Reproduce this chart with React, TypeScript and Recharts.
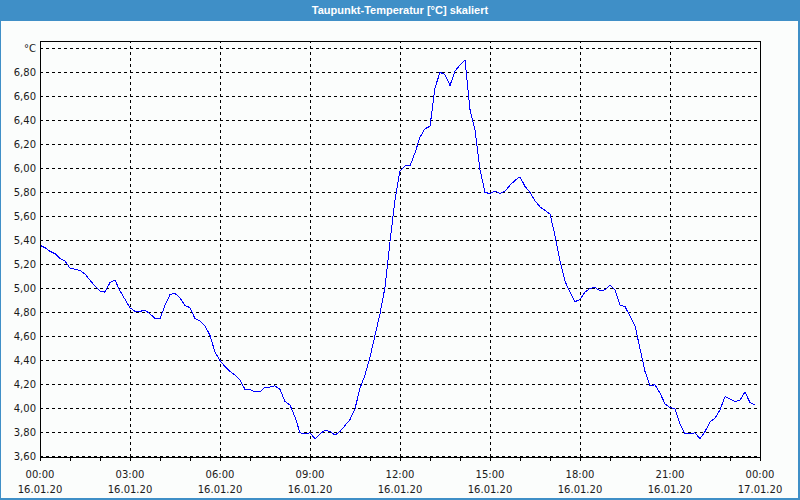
import { LineChart, Line, XAxis, YAxis, CartesianGrid, ReferenceLine, ReferenceArea } from 'recharts'

// dew point, one reading every 10 minutes from 16.01.20 00:00
const dewPoint = [
  5.36, 5.34, 5.31, 5.29, 5.25, 5.23, 5.17, 5.16, 5.15, 5.12, 5.07, 5.02,
  4.98, 4.97, 5.05, 5.07, 4.98, 4.91, 4.84, 4.81, 4.81, 4.82, 4.79, 4.75,
  4.75, 4.86, 4.95, 4.96, 4.92, 4.86, 4.84, 4.75, 4.73, 4.69, 4.61, 4.47,
  4.4, 4.35, 4.31, 4.28, 4.24, 4.16, 4.16, 4.14, 4.14, 4.18, 4.18, 4.19,
  4.16, 4.06, 4.03, 3.93, 3.8, 3.79, 3.8, 3.75, 3.79, 3.82, 3.81, 3.78,
  3.81, 3.86, 3.91, 4.0, 4.17, 4.28, 4.43, 4.61, 4.79, 5.01, 5.39, 5.74,
  5.98, 6.02, 6.02, 6.13, 6.26, 6.33, 6.35, 6.67, 6.8, 6.78, 6.69, 6.81,
  6.86, 6.9, 6.49, 6.32, 5.99, 5.8, 5.79, 5.81, 5.79, 5.81, 5.86, 5.9,
  5.93, 5.85, 5.8, 5.73, 5.68, 5.65, 5.62, 5.44, 5.23, 5.06, 4.97, 4.89,
  4.91, 4.97, 5.0, 5.01, 4.98, 4.99, 5.03, 4.99, 4.86, 4.85, 4.77, 4.69,
  4.5, 4.31, 4.19, 4.2, 4.13, 4.04, 4.01, 4.0, 3.87, 3.79, 3.79, 3.8,
  3.75, 3.81, 3.89, 3.92, 3.99, 4.1, 4.08, 4.06, 4.07, 4.14, 4.05, 4.03
]
const STEP_MIN = 10

const yTicks = [3.6, 3.8, 4.0, 4.2, 4.4, 4.6, 4.8, 5.0, 5.2, 5.4, 5.6, 5.8, 6.0, 6.2, 6.4, 6.6, 6.8, 7.0]
const hourTicks = [0, 60, 120, 180, 240, 300, 360, 420, 480, 540, 600, 660, 720, 780, 840, 900, 960, 1020, 1080, 1140, 1200, 1260, 1320, 1380, 1440]
const gridMinutes = [180, 360, 540, 720, 900, 1080, 1260]
const timeLabels: Record<number, [string, string]> = {
  0: ['00:00', '16.01.20'],
  180: ['03:00', '16.01.20'],
  360: ['06:00', '16.01.20'],
  540: ['09:00', '16.01.20'],
  720: ['12:00', '16.01.20'],
  900: ['15:00', '16.01.20'],
  1080: ['18:00', '16.01.20'],
  1260: ['21:00', '16.01.20'],
  1440: ['00:00', '17.01.20']
}

const data = dewPoint.map((value, i) => ({ t: i * STEP_MIN, value }))

const FONT = '"DejaVu Sans", sans-serif'
const Y_MIN = 3.598
const Y_MAX = 7.06

function TimeTick({ x, y, payload }: any) {
  const label = timeLabels[payload.value]
  if (!label) return null
  return (
    <g>
      <text x={x} y={y + 15} textAnchor="middle" fontSize={10} fontFamily={FONT} fill="#1a1a1a">
        {label[0]}
      </text>
      <text x={x} y={y + 30} textAnchor="middle" fontSize={10} fontFamily={FONT} fill="#1a1a1a">
        {label[1]}
      </text>
    </g>
  )
}

const formatY = (v: number) => (v >= 6.99 ? '°C' : v.toFixed(2).replace('.', ','))

export default function App() {
  return (
    <div
      style={{
        position: 'absolute',
        left: 0,
        top: 0,
        width: 800,
        height: 500,
        boxSizing: 'border-box',
        background: '#fbfdfc',
        borderLeft: '1px solid #3f8fc7',
        borderRight: '2px solid #3f8fc7',
        borderBottom: '2px solid #3f8fc7'
      }}
    >
      <div
        style={{
          height: 21,
          margin: '0 -2px 0 -1px',
          background: '#3f8fc7',
          color: '#fff',
          fontFamily: '"Liberation Sans", sans-serif',
          fontSize: 11,
          fontWeight: 'bold',
          lineHeight: '21px',
          textAlign: 'center'
        }}
      >
        Taupunkt-Temperatur [°C] skaliert
      </div>
      <div style={{ marginLeft: -1 }}>
        <LineChart
          width={800}
          height={477}
          data={data}
          margin={{ top: 20, right: 40, left: 0, bottom: 3 }}
          style={{ shapeRendering: 'crispEdges' }}
        >
          <CartesianGrid vertical={false} stroke="#000" strokeDasharray="3 3" />
          {gridMinutes.map((m) => (
            <ReferenceLine key={m} x={m} stroke="#000" strokeDasharray="3 3" />
          ))}
          <ReferenceArea x1={0} x2={1440} y1={Y_MIN} y2={Y_MAX} fill="none" stroke="#000" strokeWidth={1} />
          <XAxis
            dataKey="t"
            type="number"
            domain={[0, 1440]}
            ticks={hourTicks}
            interval={0}
            tick={<TimeTick />}
            tickSize={4}
            tickLine={{ stroke: '#000' }}
            axisLine={{ stroke: '#000' }}
            height={38}
          />
          <YAxis
            type="number"
            domain={[Y_MIN, Y_MAX]}
            ticks={yTicks}
            interval={0}
            allowDataOverflow
            tickFormatter={formatY}
            tick={{ fontSize: 10, fontFamily: FONT, fill: '#1a1a1a' }}
            tickLine={false}
            tickSize={0}
            tickMargin={4}
            axisLine={{ stroke: '#000' }}
            width={40}
          />
          <Line
            type="linear"
            dataKey="value"
            stroke="#0000ff"
            strokeWidth={1}
            dot={false}
            isAnimationActive={false}
          />
        </LineChart>
      </div>
    </div>
  )
}
